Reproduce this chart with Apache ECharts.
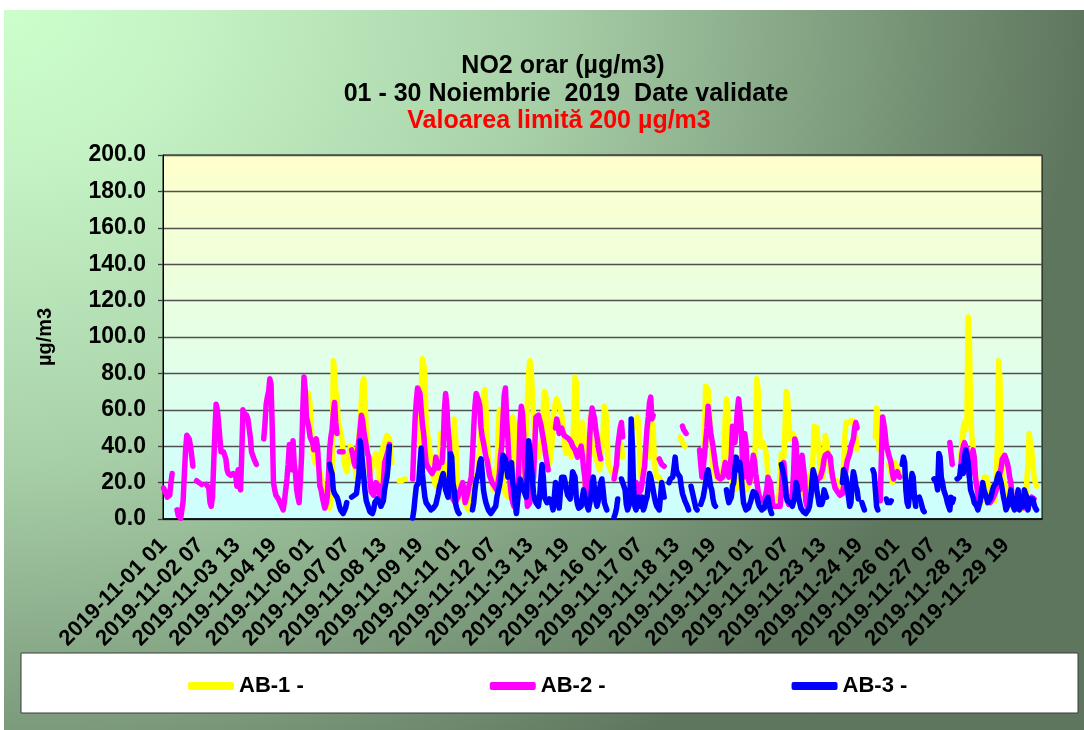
<!DOCTYPE html>
<html>
<head>
<meta charset="utf-8">
<script src="https://cdn.jsdelivr.net/npm/echarts@6/dist/echarts.min.js"></script>
<style>
  html, body { margin: 0; padding: 0; background: #ffffff; }
  #bg { position: absolute; left: 4px; top: 10px; width: 1080px; height: 720px;
        background: radial-gradient(1080px 900px at 0 0, #ccffcc 0%, #c4f2c4 18%, #a8d0a8 50%, #7c9a7c 80%, #5e765e 100%); }
  #chart { position: absolute; left: 0; top: 0; width: 1084px; height: 730px; }
</style>
</head>
<body>
<div id="bg"></div>
<div id="chart"></div>
<script>
const _ = null;

// Hourly categories: 2019-11-01 01 ... (720 hours)
const START_UTC = Date.UTC(2019, 10, 1, 1);
const HOURS = 720;
const categories = [];
for (let i = 0; i < HOURS; i++) {
  const d = new Date(START_UTC + i * 3600000);
  const p = n => String(n).padStart(2, '0');
  categories.push(d.getUTCFullYear() + '-' + p(d.getUTCMonth() + 1) + '-' + p(d.getUTCDate()) + ' ' + p(d.getUTCHours()));
}

const seriesNames = ['AB-1 -', 'AB-2 -', 'AB-3 -'];
const titleLines = ['NO2 orar (µg/m3)', '01 - 30 Noiembrie  2019  Date validate', 'Valoarea limită 200 µg/m3'];
const yAxisName = 'µg/m3';

// AB-1 (yellow), one row per day (24 h)
const AB1 = [
_,_,_,_,_,_,_,_,_,_,_,_,_,_,_,_,_,_,_,_,_,_,_,_,
_,_,_,_,_,_,_,_,_,_,_,_,_,_,_,_,_,_,_,_,_,_,_,_,
_,_,_,_,_,_,_,_,_,_,_,_,_,_,_,_,_,_,_,_,_,_,_,_,
_,_,_,_,_,_,_,_,_,_,_,_,_,_,_,_,_,_,_,_,_,_,_,_,
_,_,_,_,_,_,_,_,_,_,_,_,_,_,_,_,_,_,_,_,_,_,60,69,
62,49,40,34,31,34,30,28,26,27,20,16,12,9,7,6,6,10,16,87,82,70,67,53,
51,47,44,38,31,28,26,31,36,40,41,38,32,27,23,38,45,53,65,75,77,65,47,34,
30,23,26,30,31,34,36,35,34,16,34,38,40,42,44,46,47,44,38,31,_,_,_,_,
_,21,21,21,22,22,22,_,_,_,_,_,_,_,_,_,_,_,40,70,88,85,80,53,
47,44,38,30,25,23,20,18,20,25,31,47,42,34,28,25,23,20,18,16,17,20,55,46,
35,16,14,13,12,11,10,9,7,6,5,10,20,23,23,23,23,25,30,40,49,60,68,71,
62,45,34,28,27,25,16,18,20,22,47,60,50,34,25,16,14,13,12,15,20,30,56,56,
50,16,14,12,12,15,20,30,40,47,65,80,87,82,70,56,45,40,36,34,36,40,45,60,
70,68,62,34,30,29,40,55,60,64,66,64,63,60,57,53,45,38,36,37,40,38,34,40,
55,78,75,50,40,34,45,53,44,23,12,15,35,56,50,40,38,36,34,32,29,27,30,40,
47,62,60,53,31,29,27,26,25,23,25,29,35,40,42,40,34,_,_,_,_,_,_,_,
_,_,_,50,56,53,34,23,25,27,32,36,35,34,49,56,53,49,31,26,23,23,23,22,
20,16,_,_,_,_,_,_,_,_,_,_,_,_,_,45,44,42,41,40,_,_,_,_,
_,_,_,_,_,_,_,38,36,35,34,45,73,72,71,60,45,38,29,26,24,23,22,21,
22,23,25,35,55,66,62,38,30,23,16,16,16,16,18,20,34,28,23,20,18,16,17,18,
20,21,22,23,23,50,77,71,50,40,41,42,42,38,34,23,15,12,10,9,10,11,11,12,
13,14,36,35,34,50,70,68,55,44,45,47,47,45,35,25,20,16,15,14,14,15,16,18,
20,23,25,27,35,51,51,50,49,35,25,24,23,35,46,45,38,30,27,25,23,22,21,21,
21,20,20,16,20,30,45,53,53,53,53,54,55,54,53,45,38,_,_,_,_,_,_,_,
_,_,_,_,_,_,_,45,61,58,38,_,_,_,_,_,_,_,30,31,25,20,28,31,
30,28,26,24,_,_,_,_,_,_,_,_,_,_,_,_,_,_,_,_,_,_,_,_,
_,_,_,_,_,_,_,_,_,_,_,_,_,_,_,_,_,_,_,_,_,_,_,_,
_,_,_,_,_,34,43,50,53,49,55,111,98,62,45,40,31,25,20,15,9,9,9,9,
23,23,23,20,16,14,13,12,11,10,9,40,87,78,40,23,21,20,18,16,14,12,10,9,
8,7,7,6,6,5,5,6,7,8,10,11,30,47,42,38,31,23,20,18,_,_,_,_
];

// AB-2 (magenta)
const AB2 = [
17,16,14,12,12,13,20,25,_,_,_,5,2,1,0.5,1,10,25,38,46,45,44,40,35,
29,_,_,21,21,20,20,19,_,_,_,19,18,17,9,7,12,30,48,63,60,53,45,37,
36,37,38,33,27,25,25,24,24,25,26,24,18,27,20,16,35,60,58,57,57,55,50,45,
37,35,33,32,30,_,_,_,_,_,44,52,63,67,70,77,74,50,20,16,13,12,11,10,
8,7,5,10,11,22,30,41,41,27,43,30,25,16,12,9,9,34,60,78,71,56,53,50,
45,44,42,38,42,44,40,30,18,16,12,9,6,8,12,23,38,45,49,58,64,53,47,_,
37,37,37,37,_,_,_,_,_,_,38,35,31,29,32,38,43,50,57,54,48,44,40,36,
34,23,15,14,13,13,20,19,18,12,14,17,20,31,33,34,38,41,_,_,_,_,_,_,
_,_,_,_,_,_,_,_,_,_,_,_,22,40,55,65,72,71,69,60,52,47,38,31,
29,28,27,26,25,24,28,34,30,28,31,31,31,40,60,69,62,49,42,30,23,11,10,9,
9,12,14,16,18,20,15,9,8,14,18,20,23,35,50,62,69,67,65,62,50,45,42,38,
34,32,28,24,22,20,19,18,17,16,16,25,35,40,55,68,72,55,44,30,18,12,9,7,
7,10,14,30,53,62,58,45,27,15,7,8,9,14,20,23,40,56,57,57,57,52,48,44,
40,35,31,27,_,_,_,_,_,50,55,52,47,48,50,49,46,46,45,44,44,43,42,40,
39,38,36,34,36,38,40,35,28,23,12,9,25,45,55,61,60,55,49,45,40,36,33,_,
_,_,_,_,_,_,_,_,_,22,23,30,40,45,50,53,45,_,_,_,_,_,_,_,
_,_,_,20,17,14,14,16,20,25,29,40,50,56,64,67,55,57,_,_,_,_,33,32,
30,29,29,_,_,_,_,_,_,_,_,_,_,_,_,_,_,51,49,48,47,_,_,_,
_,_,_,_,_,_,_,38,30,23,28,35,35,50,62,55,48,44,40,35,30,26,23,23,
22,23,23,27,31,28,25,23,23,35,51,45,42,50,60,66,67,52,35,23,47,42,25,22,
20,25,30,35,32,25,20,15,12,11,10,9,10,13,16,23,23,20,14,7,7,7,7,7,
7,7,15,28,31,22,14,10,8,7,10,14,25,44,42,25,18,16,30,35,34,23,10,7,
8,9,12,15,16,18,20,21,22,22,23,23,28,33,35,36,36,35,34,28,23,20,17,16,
15,14,13,12,14,18,22,28,32,34,36,40,42,44,50,53,50,_,_,_,_,_,_,_,
_,_,_,_,_,_,_,_,_,_,_,10,35,56,52,47,40,38,35,33,30,25,22,24,
23,26,24,23,_,_,_,_,_,_,_,_,_,_,_,_,_,_,_,_,_,_,_,_,
_,_,_,_,_,_,_,_,_,_,_,_,_,_,_,_,_,_,_,_,42,36,30,_,
_,_,_,_,_,29,36,40,42,42,38,31,23,28,34,38,34,23,18,14,9,10,13,16,
14,13,12,10,9,9,10,11,12,14,16,19,22,23,28,33,34,35,35,31,28,23,20,12,
10,8,7,8,9,9,8,7,7,6,5,6,8,9,10,12,12,11,_,_,_,_,_,_
];

// AB-3 (blue)
const AB3 = [
_,_,_,_,_,_,_,_,_,_,_,_,_,_,_,_,_,_,_,_,_,_,_,_,
_,_,_,_,_,_,_,_,_,_,_,_,_,_,_,_,_,_,_,_,_,_,_,_,
_,_,_,_,_,_,_,_,_,_,_,_,_,_,_,_,_,_,_,_,_,_,_,_,
_,_,_,_,_,_,_,_,_,_,_,_,_,_,_,_,_,_,_,_,_,_,_,_,
_,_,_,_,_,_,_,_,_,_,_,_,_,_,_,_,_,_,_,_,_,_,_,_,
_,_,_,_,_,_,_,_,_,_,_,_,_,_,_,_,30,27,25,16,14,13,12,10,
7,5,4,3,3,6,9,_,_,_,12,13,13,14,14,13,25,43,38,30,23,15,10,8,
6,4,3,3,5,9,10,11,12,9,7,7,10,16,20,23,30,40,_,_,_,_,_,_,
_,_,_,_,_,_,_,_,_,_,_,_,0.5,5,12,18,19,20,30,39,25,18,12,9,
8,7,6,5,5,6,7,8,9,14,18,20,23,25,20,16,14,12,20,36,34,20,16,9,
6,4,3,_,_,_,_,_,_,_,_,_,_,5,9,16,21,23,26,31,33,25,16,12,
9,7,5,4,3,4,5,6,7,12,15,18,22,28,35,34,33,28,23,26,29,31,20,16,
8,3,10,18,22,19,17,16,14,12,25,43,38,30,23,14,11,9,8,7,12,22,30,23,
12,11,9,10,11,10,8,5,12,20,18,9,6,5,23,24,23,20,16,13,12,11,18,26,
25,23,12,8,6,5,7,12,16,12,9,7,5,5,12,20,23,16,10,7,10,16,20,22,
16,9,7,5,_,_,_,_,_,1,3,6,11,_,_,22,20,18,16,8,5,7,9,55,
40,16,7,5,8,12,7,10,12,5,7,10,12,18,25,23,22,16,12,9,7,6,5,12,
20,20,12,_,_,_,20,22,23,23,28,34,27,25,24,23,18,14,12,10,9,7,5,_,
18,15,12,9,6,5,_,_,8,9,12,16,20,25,27,23,18,16,11,8,7,_,_,_,
_,_,_,_,_,16,12,9,9,12,18,20,28,34,31,27,31,25,16,9,7,5,5,6,
8,10,13,15,16,14,12,9,7,6,5,4,6,9,9,12,8,5,3,_,_,_,_,_,
_,_,30,29,24,20,12,10,9,9,8,7,7,12,20,18,12,9,6,5,4,3,3,3,
5,7,12,20,27,26,22,16,12,8,7,8,10,16,14,12,_,_,_,_,_,_,_,_,
_,_,_,_,20,27,25,23,16,12,7,9,20,26,23,18,16,11,_,_,9,7,5,_,
_,_,_,_,_,27,25,16,7,5,_,_,_,_,_,_,11,9,8,9,10,_,_,_,
_,_,_,_,_,30,34,31,16,9,7,7,20,25,23,12,7,_,_,12,10,9,5,4,
_,_,_,_,_,_,_,22,21,20,16,36,34,23,20,16,14,12,9,7,5,12,9,11,
_,_,22,22,23,29,27,25,34,38,35,31,23,16,14,12,9,8,7,5,5,10,16,20,
16,14,12,9,10,11,13,16,18,19,20,23,25,26,20,16,12,9,5,5,8,12,16,9,
7,5,8,12,16,5,8,9,7,16,14,12,5,9,11,12,11,8,6,5,_,_,_,_
];

const FONT = '"Liberation Sans", Arial, sans-serif';
const chart = echarts.init(document.getElementById('chart'));

function lineSeries(name, data, color) {
  return {
    name: name, type: 'line', data: data,
    symbol: 'none', showSymbol: false, connectNulls: false,
    lineStyle: { color: color, width: 5.5, cap: 'round', join: 'round' },
    itemStyle: { color: color },
    emphasis: { disabled: true },
    animation: false
  };
}

const option = {
  backgroundColor: 'transparent',
  animation: false,
  textStyle: { fontFamily: FONT },
  graphic: [
    { type: 'rect', silent: true, z: 0,
      shape: { x: 21, y: 653, width: 1057, height: 60 },
      style: { fill: '#ffffff', stroke: '#3a3a3a', lineWidth: 1 } }
  ],
  title: [
    { text: titleLines[0], left: 558, top: 49, textAlign: 'center',
      textStyle: { fontFamily: FONT, fontSize: 25, fontWeight: 'bold', color: '#000000' } },
    { text: titleLines[1], left: 561, top: 77, textAlign: 'center',
      textStyle: { fontFamily: FONT, fontSize: 25, fontWeight: 'bold', color: '#000000' } },
    { text: titleLines[2], left: 554, top: 104, textAlign: 'center',
      textStyle: { fontFamily: FONT, fontSize: 25, fontWeight: 'bold', color: '#ff0000' } }
  ],
  legend: {
    data: seriesNames,
    left: 183, top: 670,
    icon: 'roundRect', itemWidth: 46, itemHeight: 8, itemGap: 186,
    textStyle: { fontFamily: FONT, fontSize: 22, fontWeight: 'bold', color: '#000000' },
    selectedMode: false
  },
  grid: {
    left: 163, right: 42, top: 155, bottom: 211,
    show: true,
    backgroundColor: new echarts.graphic.LinearGradient(0, 0, 0, 1, [
      { offset: 0, color: '#ffffcc' },
      { offset: 1, color: '#ccffff' }
    ]),
    borderColor: '#000000', borderWidth: 1
  },
  xAxis: {
    type: 'category', data: categories, boundaryGap: true,
    axisLine: { lineStyle: { color: '#000000', width: 1.5 } },
    axisTick: { show: false },
    splitLine: { show: false },
    axisLabel: {
      interval: 29, rotate: 45, margin: 23,
      fontFamily: FONT, fontSize: 22, fontWeight: 'bold', color: '#000000'
    }
  },
  yAxis: {
    type: 'value', min: 0, max: 200, interval: 20,
    name: yAxisName, nameLocation: 'middle', nameGap: 108, nameRotate: 90,
    nameTextStyle: { fontFamily: FONT, fontSize: 20, fontWeight: 'bold', color: '#000000' },
    axisLine: { show: true, lineStyle: { color: '#000000', width: 1 } },
    axisTick: { show: true, length: 5, lineStyle: { color: '#404040', width: 1.3 } },
    splitLine: { show: true, lineStyle: { color: '#505050', width: 1.4 } },
    axisLabel: {
      formatter: v => v.toFixed(1), margin: 17,
      fontFamily: FONT, fontSize: 23, fontWeight: 'bold', color: '#000000'
    }
  },
  series: [
    lineSeries(seriesNames[0], AB1, '#ffff00'),
    lineSeries(seriesNames[1], AB2, '#ff00ff'),
    lineSeries(seriesNames[2], AB3, '#0000ff')
  ]
};
chart.setOption(option);
</script>
</body>
</html>
